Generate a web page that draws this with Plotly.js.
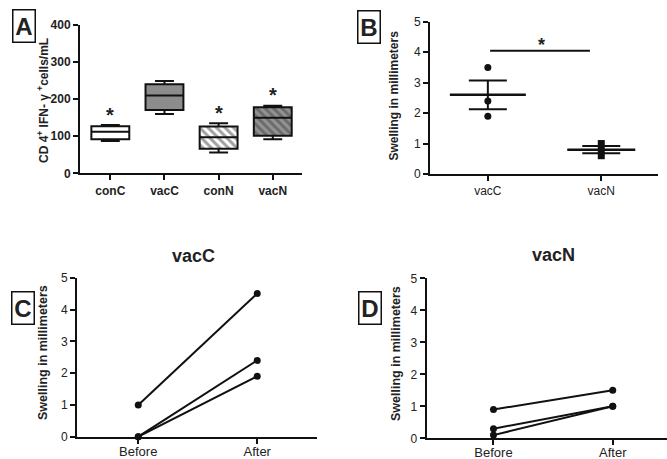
<!DOCTYPE html>
<html>
<head>
<meta charset="utf-8">
<script src="https://cdn.plot.ly/plotly-3.0.1.min.js"></script>
<style>
  html, body { margin: 0; padding: 0; background: #fff; }
  #chart { width: 667px; height: 459px; }
</style>
</head>
<body>
<div id="chart"></div>
<script>
// ---- Panel A: CD4+ IFN-γ+ cells/mL (box plots) ----
const catsA = ['conC', 'vacC', 'conN', 'vacN'];
const minA = [87, 160, 56, 92];
const q1A = [92, 171, 66, 101];
const medA = [112, 210, 97, 150];
const q3A = [127, 240, 126, 178];
const maxA = [130, 249, 135, 182];
const sigA = [true, false, true, true];

// ---- Panel B: swelling (scatter, mean ± SEM) ----
const catsB = ['vacC', 'vacN'];
const vacCB = [3.5, 2.4, 1.9];
const vacNB = [1.0, 0.8, 0.6];

// ---- Panel C / D: before vs after ----
const timeCats = ['Before', 'After'];
const beforeC = [1.0, 0.0, 0.0];
const afterC = [4.5, 2.4, 1.9];
const beforeD = [0.9, 0.3, 0.1];
const afterD = [1.5, 1.0, 1.0];

const INK = '#111';
const TXT = '#222';
const FONT = 'Liberation Sans, Arial, Helvetica, sans-serif';
const W = 667, H = 459;
const px = v => v / W;
const py = v => 1 - v / H;

function mean(a) { return a.reduce((s, v) => s + v, 0) / a.length; }
function sem(a) {
  const m = mean(a);
  const v = a.reduce((s, x) => s + (x - m) * (x - m), 0) / (a.length - 1);
  return Math.sqrt(v) / Math.sqrt(a.length);
}

const traces = [];

// A: fills (bars between q1 and q3, with hatch patterns)
const fillA = ['#ffffff', '#8c8c8c', '#ffffff', '#939393'];
const shapeA = ['', '', '\\', '\\'];
traces.push({
  type: 'bar', x: catsA, base: q1A, y: q3A.map((v, i) => v - q1A[i]),
  width: 0.7, xaxis: 'x', yaxis: 'y', hoverinfo: 'skip', showlegend: false,
  marker: {
    color: fillA, line: { width: 0 },
    pattern: { shape: shapeA, fgcolor: '#1a1a1a', bgcolor: fillA, size: 6, solidity: 0.5, fillmode: 'overlay' }
  }
});
traces.push({
  type: 'box', x: catsA, q1: q1A, median: medA, q3: q3A,
  lowerfence: minA, upperfence: maxA, width: 0.7, whiskerwidth: 0.5,
  fillcolor: 'rgba(0,0,0,0)', line: { color: INK, width: 2 },
  boxpoints: false, xaxis: 'x', yaxis: 'y', hoverinfo: 'skip', showlegend: false
});

// B: individual points
traces.push({
  type: 'scatter', mode: 'markers', x: vacCB.map(() => catsB[0]), y: vacCB,
  marker: { symbol: 'circle', size: 7, color: INK }, xaxis: 'x2', yaxis: 'y2',
  cliponaxis: false, showlegend: false, hoverinfo: 'skip'
});
traces.push({
  type: 'scatter', mode: 'markers', x: vacNB.map(() => catsB[1]), y: vacNB,
  marker: { symbol: 'square', size: 7, color: INK }, xaxis: 'x2', yaxis: 'y2',
  cliponaxis: false, showlegend: false, hoverinfo: 'skip'
});
const groupsB = [vacCB, vacNB];
const meansB = groupsB.map(mean);
const semsB = groupsB.map(sem);
traces.push({
  type: 'scatter', mode: 'markers', x: catsB, y: meansB,
  marker: { size: 2, color: 'rgba(0,0,0,0)' },
  error_y: { type: 'data', array: semsB, visible: true, width: 19, thickness: 2, color: INK },
  xaxis: 'x2', yaxis: 'y2', showlegend: false, hoverinfo: 'skip'
});

// C and D: paired lines
function pairTraces(before, after, xa, ya) {
  before.forEach((b, i) => {
    traces.push({
      type: 'scatter', mode: 'lines+markers', x: timeCats, y: [b, after[i]],
      line: { color: INK, width: 2 }, marker: { symbol: 'circle', size: 7, color: INK },
      xaxis: xa, yaxis: ya, cliponaxis: false, showlegend: false, hoverinfo: 'skip'
    });
  });
}
pairTraces(beforeC, afterC, 'x3', 'y3');
pairTraces(beforeD, afterD, 'x4', 'y4');

function xAxis(domain, anchor, range, cats, tf, standoff) {
  return {
    domain: domain, anchor: anchor, type: 'category', categoryarray: cats, categoryorder: 'array',
    range: range, showline: true, linecolor: INK, linewidth: 2, mirror: false,
    ticks: 'outside', ticklen: 5, tickwidth: 2, tickcolor: INK,
    showgrid: false, zeroline: false, tickfont: tf, fixedrange: true,
    ticklabelstandoff: standoff || 0
  };
}
function yAxis(domain, anchor, range, dtick, tf) {
  return {
    domain: domain, anchor: anchor, range: range, dtick: dtick, tick0: 0,
    showline: true, linecolor: INK, linewidth: 2,
    ticks: 'outside', ticklen: 5, tickwidth: 2, tickcolor: INK,
    showgrid: false, zeroline: false, tickfont: tf, fixedrange: true, ticklabelstandoff: 0
  };
}
const boldA = { family: FONT, size: 12, color: TXT, weight: 'bold' };
const boldAy = { family: FONT, size: 12, color: TXT, weight: 'bold' };
const regX = { family: FONT, size: 12, color: TXT };
const regY = { family: FONT, size: 12, color: TXT };
const regX2 = { family: FONT, size: 13, color: TXT };

const annotations = [];
// stars on A
sigA.forEach((s, i) => {
  if (s) annotations.push({
    xref: 'x', yref: 'y', x: catsA[i], y: maxA[i] + 28, text: '*', showarrow: false,
    font: { family: FONT, size: 20, color: TXT, weight: 'bold' }, yanchor: 'middle'
  });
});
// star on B
annotations.push({
  xref: 'x2', yref: 'y2', x: 0.47, y: Math.max(...vacCB) + 0.72, text: '*', showarrow: false,
  font: { family: FONT, size: 18, color: TXT, weight: 'bold' }, yanchor: 'middle'
});
// panel labels
[['A', 23.5, 26.5], ['B', 368.5, 27.5], ['C', 22.5, 307.5], ['D', 369.5, 307.5]].forEach(([t, x, y]) => {
  annotations.push({
    xref: 'paper', yref: 'paper', x: px(x), y: py(y), xanchor: 'center', yanchor: 'middle',
    text: '<b>' + t + '</b>', showarrow: false, width: 21, height: 31,
    bordercolor: INK, borderwidth: 1.5, borderpad: 0, bgcolor: '#fff',
    font: { family: FONT, size: 24, color: TXT }
  });
});
// y titles
const ytit = (text, x, y, size) => annotations.push({
  xref: 'paper', yref: 'paper', x: px(x), y: py(y), xanchor: 'center', yanchor: 'middle',
  text: text, textangle: -90, showarrow: false,
  font: { family: FONT, size: size, color: TXT, weight: 'bold' }
});
ytit('CD 4<sup>+</sup> IFN- γ <sup>+</sup>cells/mL', 43, 101, 12);
ytit('Swelling in millimeters', 394, 95.5, 12);
ytit('Swelling in millimeters', 43, 353, 12.5);
ytit('Swelling in millimeters', 396, 354, 12.5);
// panel titles
[['vacC', 193, 256], ['vacN', 553, 255]].forEach(([t, x, y]) => annotations.push({
  xref: 'paper', yref: 'paper', x: px(x), y: py(y), xanchor: 'center', yanchor: 'middle',
  text: t, showarrow: false, font: { family: FONT, size: 18, color: TXT, weight: 'bold' }
}));

const shapes = [];
const halfW = [0.335, 0.3];
meansB.forEach((m, i) => shapes.push({
  type: 'line', xref: 'x2', yref: 'y2', x0: i - halfW[i], x1: i + halfW[i], y0: m, y1: m,
  line: { color: INK, width: 2.5 }
}));
shapes.push({
  type: 'line', xref: 'x2', yref: 'y2', x0: 0.02, x1: 0.9,
  y0: Math.max(...vacCB) + 0.55, y1: Math.max(...vacCB) + 0.55, line: { color: INK, width: 2 }
});

const layout = {
  width: W, height: H, margin: { l: 0, r: 0, t: 0, b: 0 },
  paper_bgcolor: '#fff', plot_bgcolor: 'rgba(0,0,0,0)', showlegend: false,
  font: { family: FONT, color: TXT },
  xaxis: xAxis([px(80), px(302)], 'y', [-0.56, 3.54], catsA, boldA),
  yaxis: yAxis([py(173.3), py(25)], 'x', [0, 400], 100, boldAy),
  xaxis2: xAxis([px(430), px(658)], 'y2', [-0.51, 1.5], catsB, regX),
  yaxis2: yAxis([py(174), py(21.7)], 'x2', [0, 5], 1, regY),
  xaxis3: xAxis([px(77), px(316.7)], 'y3', [-0.515, 1.5], timeCats, regX2, -3),
  yaxis3: yAxis([py(436.7), py(277.7)], 'x3', [0, 5], 1, regY),
  xaxis4: xAxis([px(426.7), 1], 'y4', [-0.56, 1.455], timeCats, regX2, -4),
  yaxis4: yAxis([py(438.3), py(278.3)], 'x4', [0, 5], 1, regY),
  annotations: annotations, shapes: shapes
};

Plotly.newPlot('chart', traces, layout, { staticPlot: true, displayModeBar: false });
</script>
</body>
</html>
